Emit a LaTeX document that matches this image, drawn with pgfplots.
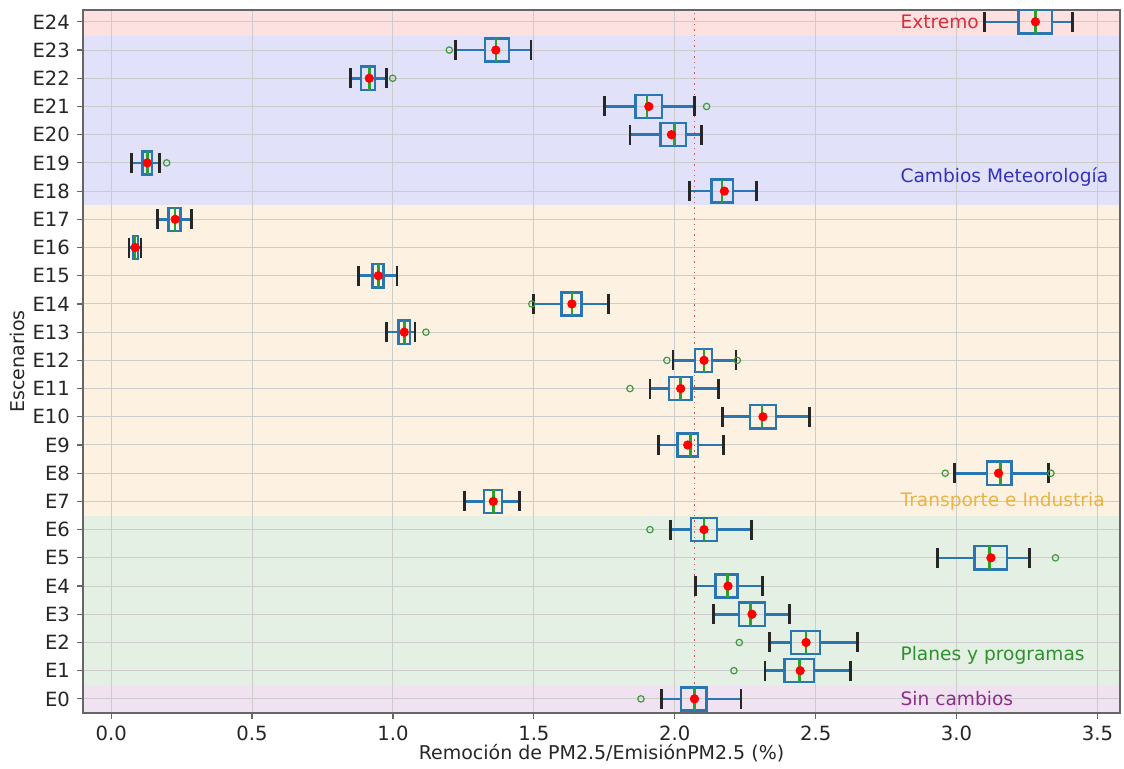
\documentclass[border=0pt]{standalone}
\usepackage{fontspec}
\setmainfont{DejaVu Sans}
\usepackage{pgfplots}
\pgfplotsset{compat=1.18}
\usepgfplotslibrary{statistics}
\definecolor{mplblue}{HTML}{2A76B2}
\definecolor{mplgreen}{HTML}{2CA02C}
\definecolor{bandred}{RGB}{253,225,225}
\definecolor{bandblue}{RGB}{225,225,250}
\definecolor{bandorange}{RGB}{253,242,226}
\definecolor{bandgreen}{RGB}{227,240,227}
\definecolor{bandpurple}{RGB}{240,226,240}
\definecolor{txtred}{RGB}{215,45,60}
\definecolor{txtblue}{RGB}{50,50,190}
\definecolor{txtorange}{RGB}{235,180,70}
\definecolor{txtgreen}{RGB}{45,145,45}
\definecolor{txtpurple}{RGB}{140,45,140}
\definecolor{refline}{RGB}{200,90,90}
\newcommand{\bx}[6]{\addplot[mybox, boxplot prepared={draw position=#1, lower whisker=#2, lower quartile=#3, median=#4, upper quartile=#5, upper whisker=#6}] coordinates {};}
\begin{document}
\begin{tikzpicture}
\begin{axis}[
  set layers,
  clip mode=individual,
  scale only axis,
  width=518.5pt, height=351.5pt,
  xmin=-0.10, xmax=3.58,
  ymin=-0.5, ymax=24.42,
  xtick={0,0.5,...,3.5},
  ytick={0,...,24},
  yticklabels={E0,E1,E2,E3,E4,E5,E6,E7,E8,E9,E10,E11,E12,E13,E14,E15,E16,E17,E18,E19,E20,E21,E22,E23,E24},
  /pgf/number format/assume math mode=true,
  xticklabel style={/pgf/number format/.cd, fixed, fixed zerofill, precision=1},
  ticklabel style={font=\fontsize{9.8}{11}\selectfont, text=black!85},
  label style={font=\fontsize{9.5}{11}\selectfont, text=black!85},
  tick align=outside,
  xtick pos=bottom,
  ytick pos=left,
  major tick length=3pt,
  tick style={gray!80!black, line width=0.6pt},
  axis line style={gray!80!black, line width=0.6pt},
  grid=major,
  grid style={gray!40, line width=0.5pt},
  xlabel={Remoción de PM2.5/EmisiónPM2.5 (\%)},
  ylabel={Escenarios},
  xlabel style={yshift=5pt},
  ylabel style={yshift=-3pt},
  mybox/.style={
    boxplot/box extend=0.82,
    boxplot/whisker extend=0,
    boxplot/every box/.style={draw=mplblue, line width=1.2pt},
    boxplot/every whisker/.style={draw=mplblue, line width=1.3pt},
    boxplot/every median/.style={draw=mplgreen, line width=1.3pt},
  },
]
% bands
\addplot[draw=none, fill=bandpurple, on layer=axis background] coordinates {(-1,-0.5) (4,-0.5) (4,0.5) (-1,0.5)} -- cycle;
\addplot[draw=none, fill=bandgreen, on layer=axis background] coordinates {(-1,0.5) (4,0.5) (4,6.5) (-1,6.5)} -- cycle;
\addplot[draw=none, fill=bandorange, on layer=axis background] coordinates {(-1,6.5) (4,6.5) (4,17.5) (-1,17.5)} -- cycle;
\addplot[draw=none, fill=bandblue, on layer=axis background] coordinates {(-1,17.5) (4,17.5) (4,23.5) (-1,23.5)} -- cycle;
\addplot[draw=none, fill=bandred, on layer=axis background] coordinates {(-1,23.5) (4,23.5) (4,25) (-1,25)} -- cycle;
% reference line
\addplot[refline, dotted, line width=0.7pt] coordinates {(2.07,-1) (2.07,25)};
% boxes: pos, lower whisker, lower quartile, median, upper quartile, upper whisker
\bx{0}{1.954}{2.022}{2.070}{2.112}{2.235}
\bx{1}{2.320}{2.390}{2.443}{2.494}{2.624}
\bx{2}{2.337}{2.412}{2.466}{2.516}{2.648}
\bx{3}{2.138}{2.229}{2.268}{2.321}{2.407}
\bx{4}{2.073}{2.144}{2.187}{2.223}{2.311}
\bx{5}{2.933}{3.063}{3.116}{3.178}{3.260}
\bx{6}{1.985}{2.057}{2.104}{2.149}{2.272}
\bx{7}{1.253}{1.324}{1.356}{1.387}{1.448}
\bx{8}{2.994}{3.107}{3.156}{3.195}{3.326}
\bx{9}{1.941}{2.010}{2.055}{2.083}{2.174}
\bx{10}{2.168}{2.266}{2.309}{2.359}{2.479}
\bx{11}{1.912}{1.980}{2.021}{2.059}{2.155}
\bx{12}{1.994}{2.071}{2.104}{2.132}{2.217}
\bx{13}{0.978}{1.020}{1.040}{1.061}{1.078}
\bx{14}{1.498}{1.598}{1.635}{1.669}{1.766}
\bx{15}{0.877}{0.928}{0.948}{0.966}{1.014}
\bx{16}{0.063}{0.077}{0.085}{0.095}{0.106}
\bx{17}{0.165}{0.204}{0.227}{0.246}{0.286}
\bx{18}{2.052}{2.130}{2.168}{2.206}{2.290}
\bx{19}{0.073}{0.111}{0.128}{0.144}{0.171}
\bx{20}{1.841}{1.949}{1.998}{2.039}{2.095}
\bx{21}{1.752}{1.860}{1.902}{1.955}{2.070}
\bx{22}{0.848}{0.887}{0.916}{0.936}{0.978}
\bx{23}{1.223}{1.327}{1.365}{1.412}{1.490}
\bx{24}{3.098}{3.220}{3.280}{3.339}{3.411}
% whisker caps
\addplot[only marks, mark=|, mark size=5pt, mark options={draw=black!85, line width=1.4pt}] coordinates {
(1.954,0) (2.235,0) (2.320,1) (2.624,1) (2.337,2) (2.648,2) (2.138,3) (2.407,3)
(2.073,4) (2.311,4) (2.933,5) (3.260,5) (1.985,6) (2.272,6) (1.253,7) (1.448,7)
(2.994,8) (3.326,8) (1.941,9) (2.174,9) (2.168,10) (2.479,10) (1.912,11) (2.155,11)
(1.994,12) (2.217,12) (0.978,13) (1.078,13) (1.498,14) (1.766,14) (0.877,15) (1.014,15)
(0.063,16) (0.106,16) (0.165,17) (0.286,17) (2.052,18) (2.290,18) (0.073,19) (0.171,19)
(1.841,20) (2.095,20) (1.752,21) (2.070,21) (0.848,22) (0.978,22) (1.223,23) (1.490,23)
(3.098,24) (3.411,24)};
% outliers
\addplot[only marks, mark=o, mark size=1.6pt, mark options={draw=mplgreen!75!gray, line width=0.6pt}] coordinates {
(1.880,0) (2.210,1) (2.229,2) (3.351,5) (1.912,6) (2.960,8) (3.335,8) (1.841,11)
(1.972,12) (2.222,12) (1.117,13) (1.493,14) (0.197,19) (2.113,21) (0.999,22) (1.200,23)};
% means
\addplot[only marks, mark=*, mark size=2.1pt, mark options={draw=red, fill=red}] coordinates {
(2.070,0) (2.445,1) (2.466,2) (2.274,3) (2.189,4) (3.122,5) (2.104,6) (1.356,7)
(3.149,8) (2.046,9) (2.313,10) (2.021,11) (2.104,12) (1.040,13) (1.635,14) (0.948,15)
(0.085,16) (0.227,17) (2.176,18) (0.128,19) (1.988,20) (1.908,21) (0.916,22) (1.365,23)
(3.280,24)};
% group labels
\node[anchor=west, text=txtred, font=\fontsize{9.3}{11}\selectfont, inner sep=0pt] at (axis cs:2.80,24) {Extremo};
\node[anchor=west, text=txtblue, font=\fontsize{9.3}{11}\selectfont, inner sep=0pt] at (axis cs:2.80,18.5) {Cambios Meteorología};
\node[anchor=west, text=txtorange, font=\fontsize{9.3}{11}\selectfont, inner sep=0pt] at (axis cs:2.80,7.0) {Transporte e Industria};
\node[anchor=west, text=txtgreen, font=\fontsize{9.3}{11}\selectfont, inner sep=0pt] at (axis cs:2.80,1.55) {Planes y programas};
\node[anchor=west, text=txtpurple, font=\fontsize{9.3}{11}\selectfont, inner sep=0pt] at (axis cs:2.80,0) {Sin cambios};
\end{axis}
\path (current axis.south west) ++(-41.5pt,-26pt) coordinate (bbA);
\path (current axis.north east) ++(2pt,5pt) coordinate (bbB);
\useasboundingbox (bbA) rectangle (bbB);
\end{tikzpicture}
\end{document}
